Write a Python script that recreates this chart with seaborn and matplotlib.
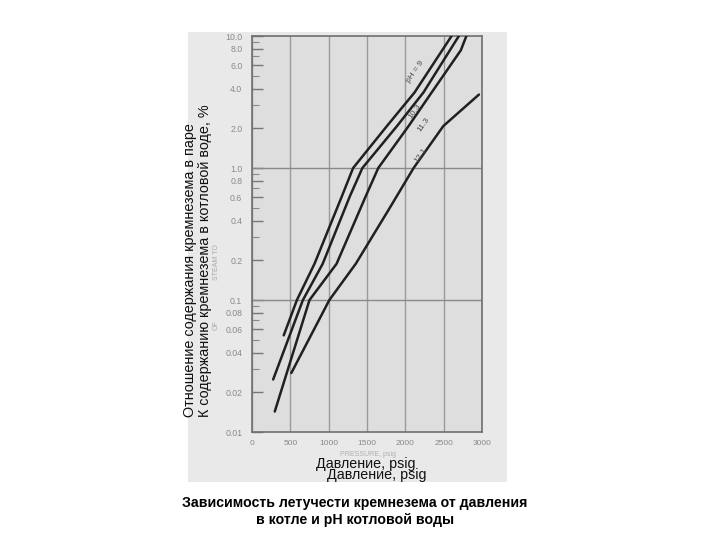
import matplotlib
matplotlib.use('Agg')
import matplotlib.pyplot as plt
import seaborn as sns
import pandas as pd
from matplotlib.patches import Rectangle
from matplotlib.ticker import FixedLocator, FixedFormatter, NullFormatter

# ---- data ----
pressure_ph9 = [414, 586, 815, 1172, 1319, 1760, 2121, 2603]
silica_ph9 = [0.054, 0.1, 0.188, 0.61, 1.0, 2.08, 3.74, 10.0]

pressure_ph103 = [276, 664, 922, 1276, 1440, 1892, 2237, 2698]
silica_ph103 = [0.025, 0.1, 0.188, 0.61, 1.0, 2.08, 3.74, 10.0]

pressure_ph113 = [297, 750, 1103, 1483, 1647, 2043, 2344, 2724, 2796]
silica_ph113 = [0.0143, 0.1, 0.188, 0.61, 1.0, 2.08, 3.74, 7.8, 10.0]

pressure_ph121 = [513, 1009, 1353, 1775, 2108, 2496, 2960]
silica_ph121 = [0.028, 0.1, 0.188, 0.475, 1.0, 2.08, 3.6]

curve_names = ['pH = 9', '10.3', '11.3', '12.1']

x_ticks = [0, 500, 1000, 1500, 2000, 2500, 3000]
x_tick_labels = ['0', '500', '1000', '1500', '2000', '2500', '3000']
y_tick_values = [10, 8, 6, 4, 2, 1, 0.8, 0.6, 0.4, 0.2, 0.1, 0.08, 0.06, 0.04, 0.02, 0.01]
y_tick_labels = ['10.0', '8.0', '6.0', '4.0', '2.0', '1.0', '0.8', '0.6', '0.4', '0.2',
                 '0.1', '0.08', '0.06', '0.04', '0.02', '0.01']
y_minor_values = [9, 7, 5, 3, 0.9, 0.7, 0.5, 0.3, 0.09, 0.07, 0.05, 0.03]

ylabel_line1 = 'Отношение содержания кремнезема в паре'
ylabel_line2 = 'К содержанию кремнезема в котловой воде, %'
xlabel_text = 'Давление, psig'
title_line1 = 'Зависимость летучести кремнезема от давления'
title_line2 = 'в котле и pH котловой воды'

# ---- build table ----
frames = []
for name, px, sy in zip(curve_names,
                        [pressure_ph9, pressure_ph103, pressure_ph113, pressure_ph121],
                        [silica_ph9, silica_ph103, silica_ph113, silica_ph121]):
    frames.append(pd.DataFrame({'pressure': px, 'silica': sy, 'curve': name}))
df = pd.concat(frames, ignore_index=True)

sns.set_theme(style='white')
plt.rcParams['font.family'] = ['Liberation Sans', 'DejaVu Sans']

fig = plt.figure(figsize=(7.2, 5.4), dpi=100)
fig.patch.set_facecolor('white')
# scanned page background
bg = Rectangle((188 / 720, 1 - 482 / 540), 319 / 720, 450 / 540,
               transform=fig.transFigure, facecolor='#e9e9e9',
               edgecolor='none', zorder=-10)
fig.patches.append(bg)

ax = fig.add_axes([252 / 720, 1 - 432 / 540, 230 / 720, 396 / 540])
ax.set_zorder(1)
ax.set_facecolor('#dedede')

sns.lineplot(data=df, x='pressure', y='silica', hue='curve', estimator=None,
             sort=False, palette=['#202020'] * 4, linewidth=1.8, legend=False,
             ax=ax, zorder=3)

ax.set_yscale('log')
ax.set_xlim(0, 3000)
ax.set_ylim(0.01, 10)

ax.xaxis.set_major_locator(FixedLocator(x_ticks))
ax.xaxis.set_major_formatter(FixedFormatter(x_tick_labels))
ax.yaxis.set_major_locator(FixedLocator(y_tick_values))
ax.yaxis.set_major_formatter(FixedFormatter(y_tick_labels))
ax.yaxis.set_minor_locator(FixedLocator(y_minor_values))
ax.yaxis.set_minor_formatter(NullFormatter())

ax.tick_params(axis='x', which='both', length=0, pad=6, labelsize=6, labelcolor='#8a8a8a')
ax.tick_params(axis='y', which='major', direction='in', length=8, width=1,
               color='#777777', pad=7, labelsize=6.3, labelcolor='#8a8a8a', left=True)
ax.tick_params(axis='y', which='minor', direction='in', length=5, width=0.8,
               color='#888888', left=True)

ax.xaxis.grid(True, color='#9a9a9a', linewidth=1.0)
ax.yaxis.grid(False)
ax.axhline(1.0, color='#8a8a8a', linewidth=1.0, zorder=1)
ax.axhline(0.1, color='#8a8a8a', linewidth=1.0, zorder=1)

for s in ax.spines.values():
    s.set_color('#6f6f6f')
    s.set_linewidth(1.2)

ax.set_xlabel('')
ax.set_ylabel('')

# curve labels
label_pos = [(2126, 5.33), (2126, 2.70), (2243, 2.12), (2204, 1.25)]
for name, (lx, ly) in zip(curve_names, label_pos):
    ax.text(lx, ly, name, rotation=55, ha='center', va='center', fontsize=6,
            color='#4a4a4a', zorder=4)

# faint scanned original captions
fig.text(368 / 720, 1 - 455 / 540, 'PRESSURE, psig', ha='center', va='center',
         fontsize=5, color='#b0b0b0')
fig.text(216 / 720, 1 - 262 / 540, 'STEAM TO', rotation=90, ha='center', va='center',
         fontsize=5, color='#a8a8a8')
fig.text(216 / 720, 1 - 325 / 540, 'OF', rotation=90, ha='center', va='center',
         fontsize=5, color='#a8a8a8')

# overlaid Russian labels
fig.text(190 / 720, 1 - 417 / 540, ylabel_line1, rotation=90, ha='center', va='bottom',
         fontsize=10.4, color='#111111')
fig.text(205 / 720, 1 - 417 / 540, ylabel_line2, rotation=90, ha='center', va='bottom',
         fontsize=10.4, color='#111111')
fig.text(366 / 720, 1 - 464 / 540, xlabel_text, ha='center', va='center',
         fontsize=10.3, color='#111111')
fig.text(377 / 720, 1 - 475 / 540, xlabel_text, ha='center', va='center',
         fontsize=10.3, color='#111111')

fig.text(355 / 720, 1 - 503 / 540, title_line1, ha='center', va='center',
         fontsize=10.2, fontweight='bold', color='#000000')
fig.text(355 / 720, 1 - 520 / 540, title_line2, ha='center', va='center',
         fontsize=10.2, fontweight='bold', color='#000000')

fig.savefig('out.png', dpi=100)
